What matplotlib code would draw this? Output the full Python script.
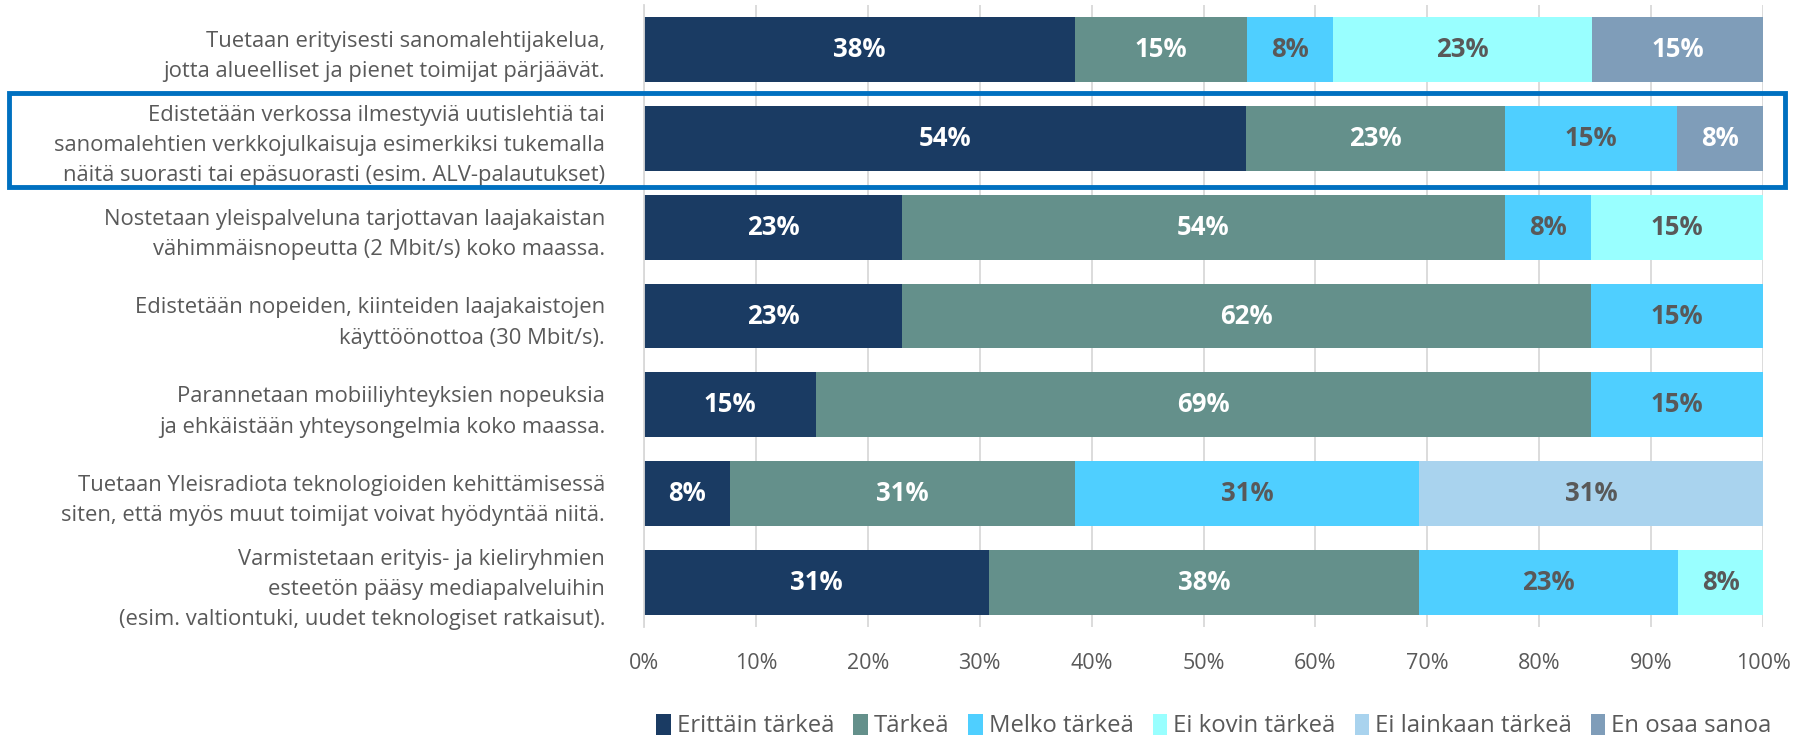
import matplotlib
matplotlib.use("Agg")
import matplotlib.pyplot as plt
from matplotlib.patches import Rectangle

# questions, top to bottom
questions = [
    "Tuetaan erityisesti sanomalehtijakelua,\njotta alueelliset ja pienet toimijat pärjäävät.",
    "Edistetään verkossa ilmestyviä uutislehtiä tai\nsanomalehtien verkkojulkaisuja esimerkiksi tukemalla\nnäitä suorasti tai epäsuorasti (esim. ALV-palautukset)",
    "Nostetaan yleispalveluna tarjottavan laajakaistan\nvähimmäisnopeutta (2 Mbit/s) koko maassa.",
    "Edistetään nopeiden, kiinteiden laajakaistojen\nkäyttöönottoa (30 Mbit/s).",
    "Parannetaan mobiiliyhteyksien nopeuksia\nja ehkäistään yhteysongelmia koko maassa.",
    "Tuetaan Yleisradiota teknologioiden kehittämisessä\nsiten, että myös muut toimijat voivat hyödyntää niitä.",
    "Varmistetaan erityis- ja kieliryhmien\nesteetön pääsy mediapalveluihin\n(esim. valtiontuki, uudet teknologiset ratkaisut).",
]

categories = ["Erittäin tärkeä", "Tärkeä", "Melko tärkeä",
              "Ei kovin tärkeä", "Ei lainkaan tärkeä", "En osaa sanoa"]

# share of answers (%), one list per answer category, rows as above
erittain = [38.5, 53.8, 23.1, 23.1, 15.4, 7.7, 30.8]
tarkea = [15.4, 23.1, 53.8, 61.5, 69.2, 30.8, 38.5]
melko = [7.7, 15.4, 7.7, 15.4, 15.4, 30.8, 23.1]
ei_kovin = [23.1, 0, 15.4, 0, 0, 0, 7.7]
ei_lainkaan = [0, 0, 0, 0, 0, 30.8, 0]
en_osaa = [15.4, 7.7, 0, 0, 0, 0, 0]
series = [erittain, tarkea, melko, ei_kovin, ei_lainkaan, en_osaa]

colors = ["#1A3B63", "#64908B", "#4FCFFF", "#99FFFF", "#A9D3EE", "#7F9DB9"]
label_colors = ["white", "white", "#595959", "#595959", "#595959", "white"]

plt.rcParams['font.family'] = ['Open Sans', 'DejaVu Sans']

W, H = 1798, 738
fig = plt.figure(figsize=(W / 100, H / 100), dpi=100)
ax = fig.add_axes([644 / W, 1 - 627 / H, (1763 - 644) / W, (627 - 5) / H])

y = list(range(len(questions)))
left = [0] * len(questions)
for vals, col, lc, name in zip(series, colors, label_colors, categories):
    bars = ax.barh(y, vals, left=left, height=0.73, color=col, label=name, zorder=2)
    for b, v in zip(bars, vals):
        if v > 0:
            ax.text(b.get_x() + b.get_width() / 2, b.get_y() + b.get_height() / 2,
                    f"{v:.0f}%", ha="center", va="center", color=lc,
                    fontsize=18.5, fontweight="bold", zorder=3)
    left = [l + v for l, v in zip(left, vals)]

ax.set_xlim(0, 100)
ax.set_ylim(len(questions) - 0.5, -0.5)
ax.set_xticks(range(0, 101, 10))
ax.set_xticklabels([f"{t}%" for t in range(0, 101, 10)])
ax.set_yticks(y)
ax.set_yticklabels(questions, fontsize=15.8, color="#595959", linespacing=1.58)
ax.tick_params(axis="x", length=0, labelsize=15.5, labelcolor="#595959", pad=19)
ax.tick_params(axis="y", length=0, pad=28)
ax.grid(axis="x", color="#D9D9D9", linewidth=1.3, zorder=0)
for s in ["top", "right", "bottom"]:
    ax.spines[s].set_visible(False)
ax.spines["left"].set_color("#D9D9D9")
ax.spines["left"].set_linewidth(1.3)

# highlight box around second question
fig.patches.append(Rectangle((9 / W, 1 - 187 / H), (1785 - 9) / W, (187 - 93) / H,
                             transform=fig.transFigure, fill=False,
                             edgecolor="#0070C0", linewidth=3.5, zorder=10))

fig.legend(loc="center", bbox_to_anchor=(1214 / W, 1 - 726 / H), ncol=6,
           frameon=False, fontsize=17.2, labelcolor="#595959", handlelength=0.6,
           handleheight=1.0, handletextpad=0.25, columnspacing=0.8,
           borderpad=0.2)

fig.savefig("out.png", dpi=100)
